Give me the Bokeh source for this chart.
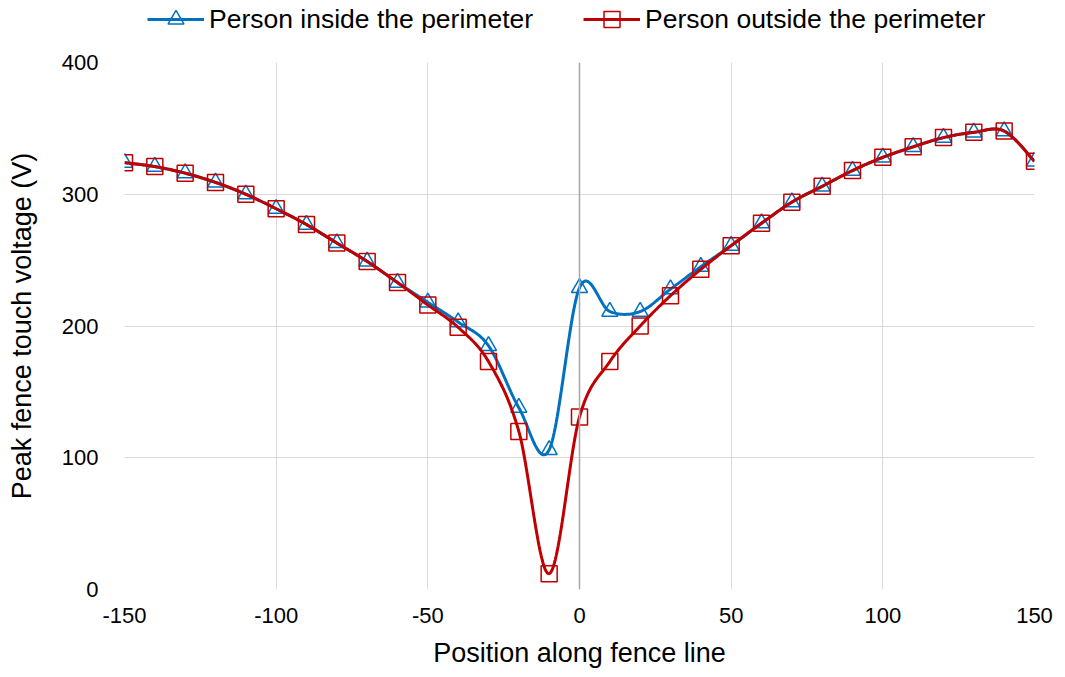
import numpy as np
from bokeh.plotting import figure
from bokeh.layouts import column
from bokeh.models import Range1d, Legend, LegendItem, Span, FixedTicker
from bokeh.embed import file_html
from bokeh.resources import INLINE

positions = list(range(-150, 151, 10))
inside = [324, 321, 316, 309, 300, 289, 277, 263, 249, 233, 218, 203, 185, 138, 106,
          229, 211, 211, 228, 245, 261, 278, 294, 306, 318, 328, 336, 343, 347, 348, 325]
outside = [324, 321, 316, 309, 300, 289, 277, 263, 249, 233, 216, 199, 173, 120, 12,
           131, 173, 200, 223, 243, 261, 278, 294, 306, 318, 328, 336, 343, 347, 348, 325]

x_ticks = [-150, -100, -50, 0, 50, 100, 150]
y_ticks = [0, 100, 200, 300, 400]
series_names = ["Person inside the perimeter", "Person outside the perimeter"]

FONT = "Liberation Sans"
blue = "#0070C0"
red = "#C00000"


def smooth(xs, ys, n=30):
    xs = np.asarray(xs, float)
    ys = np.asarray(ys, float)
    px = np.concatenate([[xs[0]], xs, [xs[-1]]])
    py = np.concatenate([[ys[0]], ys, [ys[-1]]])
    ox, oy = [], []
    t = np.linspace(0, 1, n, endpoint=False)
    for i in range(1, len(px) - 2):
        p0x, p1x, p2x, p3x = px[i - 1], px[i], px[i + 1], px[i + 2]
        p0y, p1y, p2y, p3y = py[i - 1], py[i], py[i + 1], py[i + 2]
        c1x = p1x + (p2x - p0x) / 6
        c1y = p1y + (p2y - p0y) / 6
        c2x = p2x - (p3x - p1x) / 6
        c2y = p2y - (p3y - p1y) / 6
        bx = (1 - t) ** 3 * p1x + 3 * (1 - t) ** 2 * t * c1x + 3 * (1 - t) * t ** 2 * c2x + t ** 3 * p2x
        by = (1 - t) ** 3 * p1y + 3 * (1 - t) ** 2 * t * c1y + 3 * (1 - t) * t ** 2 * c2y + t ** 3 * p2y
        ox.extend(bx)
        oy.extend(by)
    ox.append(xs[-1])
    oy.append(ys[-1])
    return ox, oy


p = figure(width=1065, height=627, output_backend="svg", toolbar_location=None,
           x_range=Range1d(-150, 150), y_range=Range1d(0, 400),
           min_border_left=124, min_border_right=31, min_border_top=12, min_border_bottom=88)
p.outline_line_color = None
p.background_fill_color = "white"
p.border_fill_color = "white"

for ax in (p.xaxis, p.yaxis):
    ax.axis_line_color = None
    ax.major_tick_line_color = None
    ax.minor_tick_line_color = None
    ax.major_label_text_font = FONT
    ax.major_label_text_font_size = "22px"
    ax.major_label_text_color = "black"
    ax.axis_label_text_font = FONT
    ax.axis_label_text_font_size = "27px"
    ax.axis_label_text_font_style = "normal"
    ax.axis_label_text_color = "black"

p.xaxis.ticker = FixedTicker(ticks=x_ticks)
p.yaxis.ticker = FixedTicker(ticks=y_ticks)
p.xaxis.major_label_overrides = {t: str(t) for t in x_ticks}
p.yaxis.major_label_overrides = {t: str(t) for t in y_ticks}
p.xaxis.major_label_standoff = 12
p.yaxis.major_label_standoff = 20
p.xaxis.axis_label = "Position along fence line"
p.yaxis.axis_label = "Peak fence touch voltage (V)"
p.xaxis.axis_label_standoff = 12
p.yaxis.axis_label_standoff = 22

p.xgrid.grid_line_color = "#d9d9d9"
p.ygrid.grid_line_color = "#d9d9d9"
p.xgrid.grid_line_width = 1
p.ygrid.grid_line_width = 1
p.xgrid.ticker = FixedTicker(ticks=x_ticks)
p.ygrid.ticker = FixedTicker(ticks=y_ticks)

p.add_layout(Span(location=0, dimension="height", line_color="#a6a6a6", line_width=1.5))

bx, by = smooth(positions, inside)
p.line(bx, by, line_color=blue, line_width=3)
p.scatter(positions, inside, marker="triangle", size=16, line_color=blue,
          line_width=1.5, fill_color="white", fill_alpha=0)

rx, ry = smooth(positions, outside)
p.line(rx, ry, line_color=red, line_width=3)
p.scatter(positions, outside, marker="square", size=16, line_color=red,
          line_width=1.5, fill_alpha=0)

# Legend strip above the chart (its frame is aligned with the chart's frame)
lg = figure(width=1065, height=50, output_backend="svg", toolbar_location=None,
            x_range=Range1d(0, 1), y_range=Range1d(0, 1),
            x_axis_type=None, y_axis_type=None,
            min_border_left=124, min_border_right=31, min_border_top=0, min_border_bottom=0)
lg.outline_line_color = None
lg.xgrid.visible = False
lg.ygrid.visible = False
d1 = lg.line([5, 6], [5, 6], line_color=blue, line_width=3)
m1 = lg.scatter([5], [5], marker="triangle", size=16, line_color=blue, line_width=1.5,
                fill_color="white", fill_alpha=0)
d2 = lg.line([5, 6], [5, 6], line_color=red, line_width=3)
m2 = lg.scatter([5], [5], marker="square", size=16, line_color=red, line_width=1.5, fill_alpha=0)

legend = Legend(items=[LegendItem(label=series_names[0], renderers=[d1, m1]),
                       LegendItem(label=series_names[1], renderers=[d2, m2])],
                orientation="horizontal", location=(23, 11),
                label_text_font=FONT, label_text_font_size="26.5px", label_text_color="black",
                glyph_width=57, glyph_height=40, label_standoff=5, spacing=50,
                border_line_color=None, background_fill_alpha=0, padding=0, margin=0)
lg.add_layout(legend)

layout = column(lg, p, spacing=0)
open("out.html", "w").write(file_html(layout, INLINE))
